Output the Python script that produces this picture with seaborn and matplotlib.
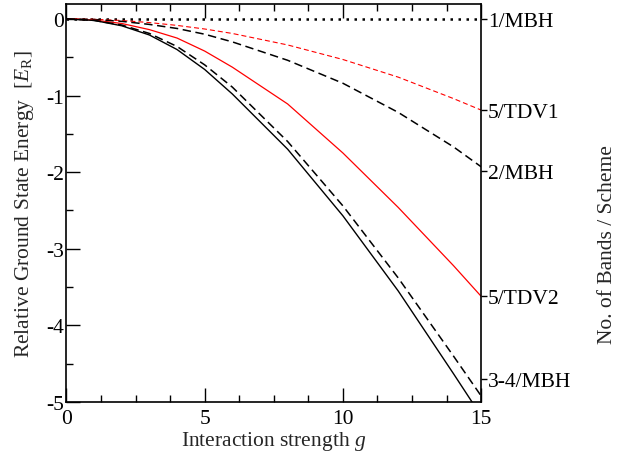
import numpy as np
import pandas as pd
import seaborn as sns
import matplotlib
matplotlib.use("Agg")
import matplotlib.pyplot as plt
from matplotlib.ticker import MultipleLocator, FormatStrFormatter

# interaction strength grid
g = [0, 1, 2, 3, 4, 5, 6, 8, 10, 12, 14, 15]

# relative ground state energies
e_1mbh = [0, 0, 0, 0, 0, 0, 0, 0, 0, 0, 0, 0]
e_5tdv1 = [0, -0.005, -0.021, -0.048, -0.085, -0.132, -0.19, -0.34, -0.53, -0.76, -1.04, -1.19]
e_2mbh = [0, -0.008, -0.032, -0.072, -0.125, -0.20, -0.30, -0.54, -0.84, -1.22, -1.67, -1.93]
e_5tdv2 = [0, -0.015, -0.06, -0.14, -0.25, -0.42, -0.63, -1.11, -1.75, -2.46, -3.22, -3.62]
e_34mbh_d = [0, -0.02, -0.08, -0.19, -0.36, -0.60, -0.89, -1.60, -2.44, -3.38, -4.40, -4.92]
e_34mbh_s = [0, -0.02, -0.09, -0.21, -0.40, -0.66, -0.98, -1.70, -2.57, -3.55, -4.63, -5.18]

right_labels = ["1/MBH", "5/TDV1", "2/MBH", "5/TDV2", "3-4/MBH"]
right_pos = [0, -1.19, -1.98, -3.62, -4.7]

sns.set_theme(style="ticks")
plt.rcParams["font.family"] = ["Liberation Serif", "DejaVu Serif"]
plt.rcParams["mathtext.fontset"] = "custom"
plt.rcParams["mathtext.rm"] = "Liberation Serif"
plt.rcParams["mathtext.it"] = "Liberation Serif:italic"
plt.rcParams["axes.unicode_minus"] = False

fs = 15.5
fig = plt.figure(figsize=(6.39, 4.56), dpi=100)
ax = fig.add_axes([0.104, 0.116, 0.649, 0.874])

series = [
    (e_1mbh, "black", (0, (1, 2.2)), 1.8),
    (e_5tdv1, "red", (0, (4.5, 2.7)), 0.8),
    (e_2mbh, "black", (0, (5.5, 3)), 1.1),
    (e_5tdv2, "red", "-", 0.9),
    (e_34mbh_d, "black", (0, (5.5, 3)), 1.1),
    (e_34mbh_s, "black", "-", 1.0),
]
for vals, col, ls, lw in series:
    df = pd.DataFrame({"g": g, "E": vals})
    sns.lineplot(data=df, x="g", y="E", color=col, linestyle=ls, linewidth=lw, ax=ax)

ax.set_xlim(0, 15)
ax.set_ylim(-5, 0.2)
ax.xaxis.set_major_locator(MultipleLocator(5))
ax.xaxis.set_minor_locator(MultipleLocator(1.25))
ax.yaxis.set_major_locator(MultipleLocator(1))
ax.yaxis.set_minor_locator(MultipleLocator(0.5))
ax.yaxis.set_major_formatter(FormatStrFormatter("%d"))
ax.tick_params(which="both", direction="in", top=True, right=True, labelsize=fs, colors="black")
ax.tick_params(which="major", length=10, width=1)
ax.tick_params(which="minor", length=5, width=1)
ax.tick_params(axis="x", which="major", pad=5)
ax.tick_params(axis="y", which="major", pad=2)
for sp in ax.spines.values():
    sp.set_linewidth(1.2)
    sp.set_color("black")

ax.set_xlabel("Interaction strength $g$", fontsize=fs, labelpad=1)
ax.set_ylabel(r"Relative Ground State Energy  [$E_{\mathrm{R}}$]", fontsize=fs, labelpad=7)

ax2 = ax.twinx()
ax2.set_ylim(ax.get_ylim())
ax2.set_yticks(right_pos)
ax2.set_yticklabels(right_labels)
ax2.tick_params(axis="y", direction="out", length=4, width=1, labelsize=fs, pad=1, colors="black")
for sp in ax2.spines.values():
    sp.set_visible(False)

fig.text(0.951, 0.463, "No. of Bands / Scheme", rotation=90, ha="center", va="center", fontsize=fs)

fig.savefig("out.png", dpi=100)
